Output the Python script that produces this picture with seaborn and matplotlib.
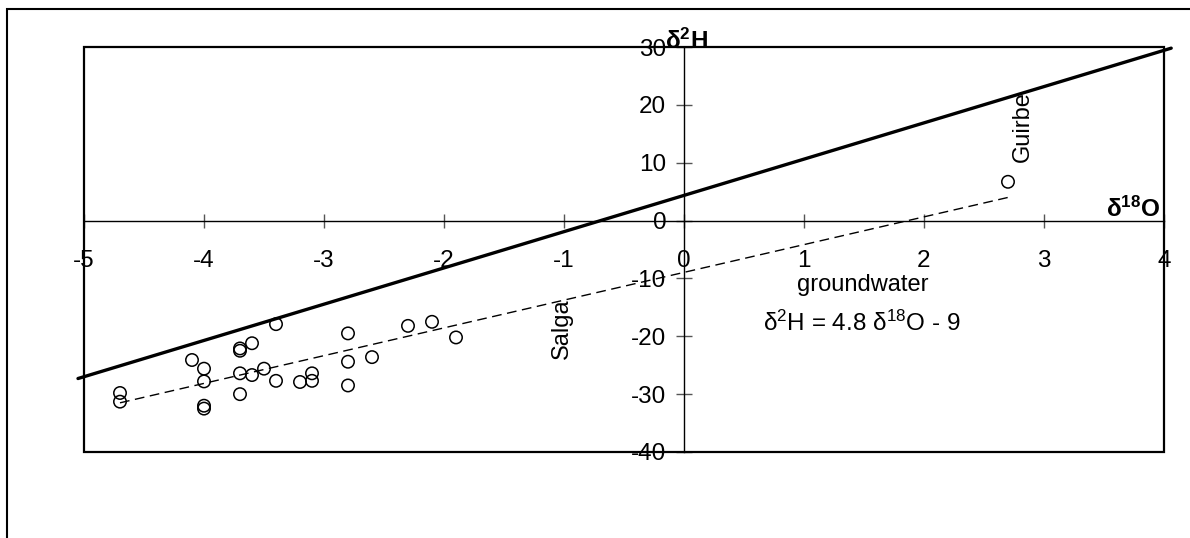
import matplotlib
matplotlib.use("Agg")
import matplotlib.pyplot as plt
import seaborn as sns
import pandas as pd
from matplotlib.patches import Rectangle

sns.set_style("white")
plt.rcParams['font.family'] = ['Liberation Sans', 'DejaVu Sans']
plt.rcParams['mathtext.fontset'] = 'custom'
plt.rcParams['mathtext.rm'] = 'Liberation Sans'
plt.rcParams['mathtext.it'] = 'Liberation Sans:italic'
plt.rcParams['mathtext.bf'] = 'Liberation Sans:bold'
plt.rcParams['text.color'] = 'black'
plt.rcParams['xtick.color'] = 'black'
plt.rcParams['ytick.color'] = 'black'

# ---- data ----
d18O = [-4.7, -4.7, -4.1, -4.0, -4.0, -4.0, -4.0, -3.7, -3.7, -3.6, -3.4, -3.7, -3.6, -3.7,
        -3.5, -3.4, -3.2, -3.1, -3.1, -2.8, -2.8, -2.8, -2.6, -2.3, -2.1, -1.9, 2.7]
d2H = [-29.8, -31.3, -24.1, -25.6, -27.8, -32.0, -32.5, -22.1, -22.5, -21.2, -17.9, -26.4, -26.7, -30.0,
       -25.6, -27.7, -27.9, -26.4, -27.7, -19.5, -24.4, -28.5, -23.6, -18.2, -17.5, -20.2, 6.7]

mwl_x = [-5.05, 4.06]
mwl_y = [-27.3, 29.8]

gw_x = [-4.7, 2.7]
gw_y = [-31.5, 4.0]

x_ticks = [-5, -4, -3, -2, -1, 0, 1, 2, 3, 4]
y_ticks = [-40, -30, -20, -10, 0, 10, 20, 30]

W, H = 1190, 538
fig = plt.figure(figsize=(W / 100, H / 100), dpi=100)
left, right, top, bottom = 84, 1164, 47, 452
ax = fig.add_axes([left / W, 1 - bottom / H, (right - left) / W, (bottom - top) / H])

df = pd.DataFrame({"d18O": d18O, "d2H": d2H})
sns.scatterplot(data=df, x="d18O", y="d2H", ax=ax, marker="o", s=80,
                facecolor="none", edgecolor="black", linewidth=1.1, zorder=3)

ax.plot(mwl_x, mwl_y, color="black", lw=2.4, clip_on=False, zorder=2)
ax.plot(gw_x, gw_y, color="black", lw=1.0, linestyle=(0, (7, 4)), zorder=2)

ax.set_xlim(-5, 4)
ax.set_ylim(-40, 30)
ax.set_xticks(x_ticks)
ax.set_yticks(y_ticks)
ax.set_xticklabels([str(t) for t in x_ticks])
ax.set_yticklabels([str(t) for t in y_ticks])
ax.set_xlabel("")
ax.set_ylabel("")

# move axes through origin
ax.spines['left'].set_position(('data', 0))
ax.spines['bottom'].set_position(('data', 0))
for s in ['left', 'bottom']:
    ax.spines[s].set_linewidth(1.0)
    ax.spines[s].set_color('black')
for s in ['top', 'right']:
    ax.spines[s].set_visible(False)
ax.add_patch(Rectangle((0, 0), 1, 1, transform=ax.transAxes, fill=False,
                       edgecolor='black', lw=1.6, clip_on=False, zorder=5))

ax.tick_params(axis='x', bottom=True, direction='inout', length=10, width=1,
               color='#555555', labelcolor='black', pad=16, labelsize=17.5)
ax.tick_params(axis='y', left=True, direction='inout', length=11.5, width=1,
               color='#555555', labelcolor='black', pad=7, labelsize=17.5)

ax.text(-0.16, 29.6, r'δ$^{\mathbf{2}}$H', fontsize=17.5, fontweight='bold',
        ha='left', va='baseline')
ax.text(3.97, 0.6, r'δ$^{\mathbf{18}}$O', fontsize=17.5, fontweight='bold',
        ha='right', va='baseline')

ax.text(-1.02, -18.7, 'Salga', rotation=90, fontsize=17, ha='center', va='center')
ax.text(2.82, 16.3, 'Guirbe', rotation=90, fontsize=17, ha='center', va='center')
ax.text(1.49, -11.1, 'groundwater', fontsize=17, ha='center', va='center')
ax.text(1.48, -17.7, r'δ$^{2}$H = 4.8 δ$^{18}$O - 9', fontsize=17.5,
        ha='center', va='center')

# outer frame
fig.add_artist(Rectangle((7 / W, -0.2), 2, 1.2 - 9 / H, transform=fig.transFigure,
                         fill=False, edgecolor='black', lw=1.5))

fig.savefig("out.png", dpi=100)
